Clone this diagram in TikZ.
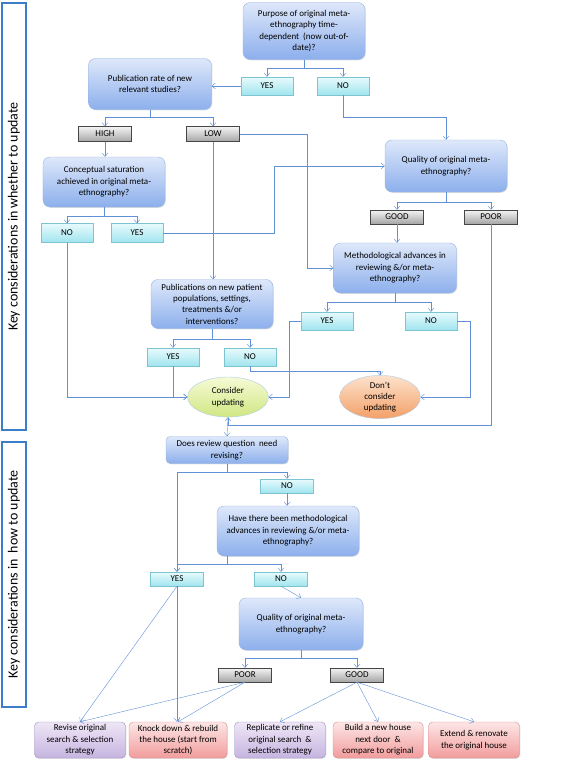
\documentclass[tikz,border=0pt]{standalone}
\usepackage{fontspec}
\setmainfont{Carlito}
\usetikzlibrary{arrows.meta}
\usetikzlibrary{shapes.geometric}
\usetikzlibrary{shadows}
\definecolor{line}{RGB}{96,145,214}
\definecolor{qtop}{RGB}{222,232,250}
\definecolor{qbot}{RGB}{140,175,236}
\definecolor{qdraw}{RGB}{150,180,226}
\definecolor{atop}{RGB}{232,251,253}
\definecolor{abot}{RGB}{160,228,238}
\definecolor{adraw}{RGB}{125,196,210}
\definecolor{gtop}{RGB}{244,244,244}
\definecolor{gbot}{RGB}{165,165,165}
\definecolor{gdraw}{RGB}{70,70,70}
\definecolor{etop}{RGB}{246,250,214}
\definecolor{ebot}{RGB}{208,230,130}
\definecolor{otop}{RGB}{253,226,204}
\definecolor{obot}{RGB}{243,160,104}
\definecolor{edraw}{RGB}{176,204,232}
\definecolor{ptop}{RGB}{238,230,246}
\definecolor{pbot}{RGB}{198,180,224}
\definecolor{pdraw}{RGB}{160,142,194}
\definecolor{rtop}{RGB}{253,230,230}
\definecolor{rbot}{RGB}{242,156,156}
\definecolor{rdraw}{RGB}{214,140,140}
\definecolor{sdraw}{RGB}{60,125,200}
\tikzset{
thin, % all lines thin
>={Straight Barb[length=3.5pt,width=6pt]}, % open arrow tips
my node/.style={align=center,inner sep=0pt,font=\fontsize{9}{11.4}\selectfont},
my shadow/.style={drop shadow={opacity=0.25,shadow xshift=0.8pt,shadow yshift=-0.8pt}},
my question/.style={my node,my shadow,draw=qdraw,rounded corners=2.5mm,top color=qtop,bottom color=qbot},
my answer/.style={my node,my shadow,draw=adraw,top color=atop,bottom color=abot,minimum width=52bp,minimum height=18bp},
my rating/.style={my node,my shadow,draw=gdraw,top color=gtop,bottom color=gbot,minimum width=53bp,minimum height=14bp},
my end/.style={my node,ellipse,draw=edraw,minimum width=81bp,minimum height=40bp},
my route/.style={my node,my shadow,rounded corners=1.5mm,minimum width=91bp,minimum height=36bp},
my refine/.style={my route,draw=pdraw,top color=ptop,bottom color=pbot},
my rebuild/.style={my route,draw=rdraw,top color=rtop,bottom color=rbot},
my side/.style={draw=sdraw,line width=1.1pt,inner sep=0pt,rotate=90,minimum height=24bp,font=\fontsize{14}{16}\selectfont},
link/.style={->,color=line},
flow/.style={x=1bp,y=-1bp}
}
\begin{document}
\begin{tikzpicture}[flow]
\useasboundingbox (0,0) rectangle (567,763);
% side labels
\node[my side,minimum width=427bp] (s1) at (14,216.5) {Key considerations in whether to update};
\node[my side,minimum width=265bp] (s2) at (14,574.5) {Key considerations in\ \ how to update};

% whether to update
\node[my question,minimum width=122bp,minimum height=57bp] (pq) at (304,31) {Purpose of original meta-\\ethnography time-\\dependent\ \ (now out-of-\\date)?};
\node[my answer] (y1) at (267,86) {YES};
\node[my answer] (n1) at (343,86) {NO};
\node[my question,minimum width=123bp,minimum height=51bp] (pr) at (150,84) {Publication rate of new\\relevant studies?};
\node[my rating,minimum height=15bp] (hi) at (105,134) {HIGH};
\node[my rating,minimum height=15bp] (lo) at (213,134) {LOW};
\node[my question,minimum width=122bp,minimum height=50bp] (cs) at (104,182) {Conceptual saturation\\achieved in original meta-\\ethnography?};
\node[my question,minimum width=122bp,minimum height=52bp] (qa) at (446,166) {Quality of original meta-\\ethnography?};
\node[my rating] (gd1) at (397,217) {GOOD};
\node[my rating] (pr1) at (491,217) {POOR};
\node[my answer,minimum height=19bp] (n2) at (67,233) {NO};
\node[my answer,minimum height=19bp] (y2) at (137,233) {YES};
\node[my question,minimum width=123bp,minimum height=50bp] (ma) at (395,268) {Methodological advances in\\reviewing \&/or meta-\\ethnography?};
\node[my question,minimum width=122bp,minimum height=49bp] (pn) at (212,304) {Publications on new patient\\populations, settings,\\treatments \&/or\\interventions?};
\node[my answer] (y3) at (327,321) {YES};
\node[my answer] (n3) at (431,321) {NO};
\node[my answer] (y4) at (173,357) {YES};
\node[my answer] (n4) at (250,357) {NO};
\node[my end,top color=etop,bottom color=ebot] (cu) at (228,397) {Consider\\updating};
\node[my end,top color=otop,bottom color=obot] (dc) at (380,397) {Don’t\\consider\\updating};

% how to update
\node[my question,rounded corners=1.5mm,minimum width=122bp,minimum height=27bp] (dr) at (227,450) {Does review question\ \ need\\revising?};
\node[my answer,minimum height=14bp,minimum width=53bp] (n5) at (287,486) {NO};
\node[my question,minimum width=142bp,minimum height=50bp] (hm) at (288,531) {Have there been methodological\\advances in reviewing \&/or meta-\\ethnography?};
\node[my answer,minimum height=14bp,minimum width=53bp] (y5) at (177,579) {YES};
\node[my answer,minimum height=14bp,minimum width=53bp] (n6) at (281,579) {NO};
\node[my question,minimum width=124bp,minimum height=52bp] (qb) at (301,624) {Quality of original meta-\\ethnography?};
\node[my rating] (po2) at (245,675) {POOR};
\node[my rating] (gd2) at (357,675) {GOOD};
\node[my refine] (b1) at (80,740) {Revise original\\search \& selection\\strategy};
\node[my rebuild,minimum width=98bp] (b2) at (178,740) {Knock down \& rebuild\\the house (start from\\scratch)};
\node[my refine] (b3) at (280,740) {Replicate or refine\\original search\ \ \&\\selection strategy};
\node[my rebuild,minimum width=90bp] (b4) at (378,740) {Build a new house\\next door\ \ \&\\compare to original};
\node[my rebuild] (b5) at (474,740) {Extend \& renovate\\the original house};

% connectors, whether
\draw[link] (pq.south) -- ++(0,8) -| (y1.north);
\draw[link] (pq.south) -- ++(0,8) -| (n1.north);
\draw[link] (y1.west) -- (y1.west -| pr.east);
\draw[link] (n1.south) -- ++(0,22) -| (qa.north);
\draw[link] (pr.south) -- ++(0,7) -| (hi.north);
\draw[link] (pr.south) -- ++(0,7) -| (lo.north);
\draw[link] (hi.south) -- (hi.south |- cs.north);
\draw[link] (lo.east) -- ++(67,0) |- (ma.west);
\draw[link] (lo.south) -- (lo.south |- pn.north);
\draw[link] (cs.south) -- ++(0,9) -| (n2.north);
\draw[link] (cs.south) -- ++(0,9) -| (y2.north);
\draw[link] (y2.east) -- ++(111,0) |- (qa.west);
\draw[link] (qa.south) -- ++(0,10) -| (gd1.north);
\draw[link] (qa.south) -- ++(0,10) -| (pr1.north);
\draw[link] (gd1.south) -- (gd1.south |- ma.north);
\draw[link] (pr1.south) -- ++(0,201) -| (cu.south);
\draw[link] (ma.south) -- ++(0,9) -| (y3.north);
\draw[link] (ma.south) -- ++(0,9) -| (n3.north);
\draw[link] (y3.west) -- ++(-12,0) |- (cu.east);
\draw[link] (n3.east) -- ++(13,0) |- (dc.east);
\draw[link] (pn.south) -- ++(0,10) -| (y4.north);
\draw[link] (pn.south) -- ++(0,10) -| (n4.north);
\draw[link] (y4.south) |- (cu.west);
\draw[link] (n2.south) |- (cu.west);
\draw[link] (n4.south) -- ++(0,5) -| (dc.north);

% connectors, how
\draw[link] (cu.south) -- (dr.north);
\draw[link] (dr.south) -- ++(0,8) -| (y5.north);
\draw[link] (dr.south) -- ++(0,8) -| (n5.north);
\draw[link] (n5.south) -- (n5.south |- hm.north);
\draw[link] (dr.south |- hm.south) -- ++(0,8) -| (y5.north);
\draw[link] (dr.south |- hm.south) -- ++(0,8) -| (n6.north);
\draw[link] (n6.south) -- (qb.north);
\draw[link] (qb.south) -- ++(0,8) -| (po2.north);
\draw[link] (qb.south) -- ++(0,8) -| (gd2.north);
\path[link] (y5.south) edge (b1.north)
                       edge (y5.south |- b2.north)
            (po2.south) edge (b1.north)
                        edge (b2.north)
            (gd2.south) edge (b3.north)
                        edge (b4.north)
                        edge (b5.north);
\end{tikzpicture}
\end{document}
